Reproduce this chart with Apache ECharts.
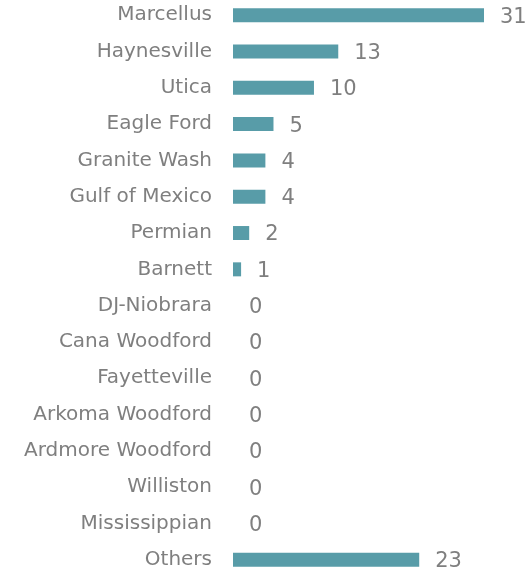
<!DOCTYPE html>
<html>
<head>
<meta charset="utf-8">
<script src="https://cdn.jsdelivr.net/npm/echarts@6/dist/echarts.min.js"></script>
<style>
html,body{margin:0;padding:0;background:#fff;}
#chart{width:532px;height:574px;}
</style>
</head>
<body>
<div id="chart"></div>
<script>
const categories = ["Marcellus","Haynesville","Utica","Eagle Ford","Granite Wash","Gulf of Mexico","Permian","Barnett","DJ-Niobrara","Cana Woodford","Fayetteville","Arkoma Woodford","Ardmore Woodford","Williston","Mississippian","Others"];
const values = [31,13,10,5,4,4,2,1,0,0,0,0,0,0,0,23];

const chart = echarts.init(document.getElementById('chart'), null, {renderer:'canvas'});
chart.setOption({
  animation:false,
  backgroundColor:'#ffffff',
  grid:{left:233, width:251, top:-3, height:581, outerBoundsMode:'none', containLabel:false},
  xAxis:{type:'value', min:0, max:31, show:false},
  yAxis:{
    type:'category', data:categories, inverse:true,
    axisLine:{show:false}, axisTick:{show:false}, splitLine:{show:false},
    axisLabel:{color:'#7f7f7f', fontSize:20, fontFamily:'DejaVu Sans', margin:21, padding:[0,0,2,0]}
  },
  series:[{
    type:'bar', data:values, barWidth:14,
    itemStyle:{color:'#589ca8'},
    label:{show:true, position:'right', distance:16, offset:[0,2], color:'#7f7f7f', fontSize:21, fontFamily:'DejaVu Sans'}
  }]
});
</script>
</body>
</html>
